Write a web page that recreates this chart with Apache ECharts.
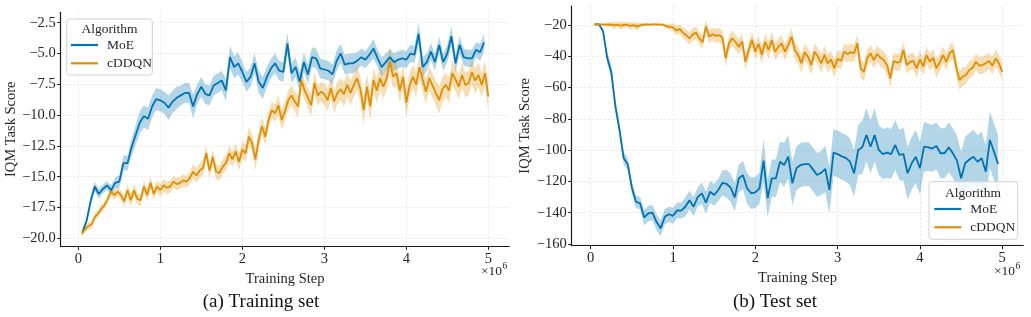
<!DOCTYPE html>
<html>
<head>
<meta charset="utf-8">
<script src="https://cdn.jsdelivr.net/npm/echarts@6.0.0/dist/echarts.min.js"></script>
<style>
  html, body { margin: 0; padding: 0; background: #fff; }
  #chart { width: 1031px; height: 317px; }
</style>
</head>
<body>
<div id="chart"></div>
<script>
// evaluation steps are in millions of training steps (axis shows x10^6)
const MOE_START = 0.05, MOE_EVERY = 0.05;     // 99 evaluations
const DDQN_START = 0.04, DDQN_EVERY = 0.04;   // 125 evaluations

const xTicks = [0, 1, 2, 3, 4, 5];
const trainTicks = [-20, -17.5, -15, -12.5, -10, -7.5, -5, -2.5];
const testTicks = [-160, -140, -120, -100, -80, -60, -40, -20];

// (a) training set, IQM mean
const moeTrain = [
  -19.5, -18.6, -17.0, -15.8, -16.4, -16.0, -15.7, -16.1, -15.5, -15.4,
  -13.9, -13.9, -12.6, -11.6, -10.6, -10.1, -10.3, -9.3, -8.7, -8.8,
  -9.0, -9.4, -8.9, -8.6, -8.4, -8.2, -8.2, -9.3, -8.3, -7.7,
  -8.3, -8.4, -7.6, -7.4, -7.2, -8.0, -5.3, -6.1, -5.8, -6.5,
  -7.3, -6.9, -5.8, -7.3, -7.8, -6.9, -6.2, -5.8, -6.4, -6.5,
  -4.2, -6.6, -6.1, -7.3, -5.7, -6.7, -5.3, -5.4, -6.2, -6.3,
  -6.4, -6.7, -5.6, -5.0, -5.9, -5.8, -5.8, -5.6, -5.3, -5.5,
  -5.1, -4.6, -5.4, -6.1, -5.7, -5.3, -5.7, -5.5, -5.4, -5.5,
  -5.0, -5.1, -3.4, -6.1, -5.7, -4.85, -5.7, -4.3, -5.7, -5.0,
  -3.6, -5.8, -4.3, -5.3, -5.4, -5.4, -4.7, -4.9, -4.1
];
// half width of the shaded interval
const moeTrainCi = [
  0.2, 0.3, 0.4, 0.4, 0.4, 0.35, 0.35, 0.4, 0.45, 0.5,
  0.6, 0.6, 0.7, 0.8, 0.9, 0.9, 0.9, 0.9, 0.9, 0.9,
  0.9, 1.0, 0.9, 0.9, 0.8, 0.8, 0.8, 1.0, 0.8, 0.8,
  0.8, 0.8, 0.8, 0.8, 0.8, 0.9, 0.9, 0.9, 0.9, 0.8,
  0.8, 0.8, 0.8, 0.9, 0.9, 0.8, 0.8, 0.8, 0.8, 0.8,
  0.9, 0.8, 0.8, 0.8, 0.8, 0.8, 0.8, 0.8, 0.8, 0.8,
  0.8, 0.8, 0.8, 0.8, 0.8, 0.8, 0.8, 0.7, 0.7, 0.7,
  0.7, 0.8, 0.7, 0.8, 0.7, 0.7, 0.7, 0.7, 0.7, 0.7,
  0.7, 0.7, 0.9, 0.8, 0.7, 0.7, 0.7, 0.7, 0.7, 0.7,
  0.8, 0.7, 0.7, 0.7, 0.7, 0.7, 0.6, 0.7, 0.7
];
const ddqnTrain = [
  -19.6, -19.3, -19.0, -18.9, -18.3, -18.0, -17.6, -17.3, -16.8, -16.2,
  -16.5, -16.2, -16.5, -17.0, -16.1, -16.9, -16.1, -16.8, -16.9, -15.8,
  -16.5, -15.5, -16.4, -15.8, -16.1, -15.7, -15.9, -15.8, -15.4, -15.6,
  -15.5, -15.3, -15.4, -15.1, -14.6, -14.9, -14.5, -14.3, -13.1, -14.5,
  -13.4, -14.6, -14.7, -14.2, -13.9, -13.1, -13.6, -12.95, -13.8, -12.8,
  -13.1, -11.75, -12.3, -13.6, -12.0, -10.9, -11.75, -10.4, -9.6, -9.85,
  -9.2, -10.4, -9.7, -8.8, -8.4, -8.9, -9.3, -7.15, -8.0, -8.6,
  -9.2, -7.4, -8.4, -8.1, -8.3, -8.8, -7.8, -8.9, -8.2, -7.9,
  -8.3, -7.55, -8.2, -7.55, -7.0, -7.9, -9.6, -7.7, -9.3, -7.15,
  -8.0, -7.0, -7.7, -7.0, -5.65, -6.9, -6.6, -8.0, -6.9, -9.0,
  -7.6, -6.9, -7.5, -6.1, -7.15, -8.1, -7.0, -7.6, -8.2, -8.8,
  -7.9, -7.55, -8.0, -6.6, -7.1, -7.7, -6.75, -7.55, -7.4, -6.5,
  -7.2, -6.75, -7.55, -6.6, -8.5
];
const ddqnTrainCi = [
  0.3, 0.3, 0.3, 0.3, 0.3, 0.3, 0.3, 0.3, 0.3, 0.3,
  0.4, 0.4, 0.4, 0.5, 0.5, 0.5, 0.5, 0.5, 0.5, 0.5,
  0.5, 0.5, 0.5, 0.5, 0.5, 0.5, 0.5, 0.5, 0.5, 0.5,
  0.5, 0.5, 0.5, 0.5, 0.6, 0.6, 0.6, 0.6, 0.7, 0.6,
  0.6, 0.6, 0.6, 0.6, 0.6, 0.7, 0.6, 0.7, 0.7, 0.7,
  0.7, 0.8, 0.7, 0.9, 0.7, 0.8, 0.7, 0.7, 0.7, 0.7,
  0.8, 0.8, 0.8, 0.8, 0.8, 0.8, 0.9, 0.9, 0.8, 0.8,
  0.9, 0.9, 0.8, 0.8, 0.9, 0.9, 0.9, 0.9, 0.9, 0.9,
  1.0, 1.0, 1.0, 1.0, 1.0, 1.0, 1.2, 1.0, 1.2, 1.0,
  1.0, 1.0, 1.0, 1.0, 1.1, 1.0, 1.0, 1.0, 1.0, 1.2,
  1.0, 1.0, 1.0, 1.0, 1.0, 1.0, 1.0, 1.0, 1.0, 1.1,
  1.0, 1.0, 1.0, 1.0, 1.0, 1.0, 1.0, 1.0, 1.0, 1.0,
  1.0, 1.0, 1.0, 1.0, 1.2
];

// (b) test set, IQM mean
const moeTest = [
  -19.6, -19.6, -24.0, -41.0, -50.0, -72.0, -87.0, -105.0, -109.0, -124.0,
  -133.0, -134.0, -143.0, -140.5, -140.0, -146.0, -150.0, -142.6, -141.0, -142.0,
  -138.5, -138.7, -136.2, -132.0, -136.2, -130.0, -127.6, -133.6, -126.6, -128.7,
  -125.5, -121.0, -121.5, -124.0, -130.2, -118.0, -116.0, -124.4, -127.6, -127.0,
  -124.4, -106.7, -130.8, -118.0, -118.0, -107.4, -109.5, -104.2, -121.2, -111.6,
  -109.5, -109.0, -108.9, -112.3, -115.9, -114.5, -112.0, -125.5, -101.6, -102.5,
  -104.0, -105.0, -107.4, -114.8, -99.9, -98.2, -90.3, -97.8, -90.3, -99.9,
  -102.5, -101.6, -102.5, -96.7, -103.1, -102.5, -114.8, -108.4, -104.2, -111.6,
  -97.8, -98.2, -99.0, -97.4, -102.0, -102.0, -98.2, -102.0, -106.7, -118.0,
  -108.4, -106.0, -104.2, -107.4, -105.2, -113.8, -93.5, -101.0, -108.9
];
const moeTestCi = [
  0.5, 0.5, 1.5, 4, 4, 4, 4, 4, 4, 4,
  4, 4, 5, 5, 5, 5, 5, 5, 5, 5,
  5, 5, 6, 6, 6, 6, 7, 7, 7, 7,
  7, 8, 9, 9, 9, 9, 9, 10, 10, 10,
  10, 14, 12, 12, 12, 13, 14, 14, 14, 14,
  14, 14, 14, 14, 14, 14, 15, 15, 15, 15,
  15, 15, 15, 15, 16, 17, 17, 17, 17, 16,
  16, 16, 16, 16, 16, 17, 17, 17, 17, 17,
  16, 15, 15, 15, 16, 16, 16, 16, 16, 17,
  17, 17, 17, 17, 17, 17, 18, 18, 18
];
const ddqnTest = [
  -19.6, -19.6, -19.6, -19.7, -19.8, -19.6, -20.3, -19.8, -20.4, -20.0,
  -19.8, -20.5, -20.0, -21.0, -20.2, -19.7, -19.6, -19.7, -19.6, -19.6,
  -19.7, -19.8, -20.8, -21.2, -21.5, -23.6, -22.5, -24.9, -26.5, -28.5,
  -26.0, -24.9, -28.5, -31.0, -21.0, -27.5, -25.8, -27.0, -26.4, -28.0,
  -41.3, -31.7, -28.5, -31.0, -33.9, -30.5, -43.5, -36.0, -29.4, -37.1,
  -32.0, -39.2, -30.7, -36.0, -29.6, -37.1, -34.0, -31.7, -37.1, -32.8,
  -27.5, -36.0, -39.2, -44.5, -37.5, -40.3, -45.6, -37.1, -40.0, -44.5,
  -39.0, -44.5, -42.0, -47.7, -41.5, -43.0, -37.1, -38.5, -37.5, -38.0,
  -31.7, -47.7, -49.9, -41.0, -38.1, -42.5, -38.5, -41.0, -42.4, -45.5,
  -54.1, -43.0, -44.0, -43.5, -36.0, -45.6, -43.5, -43.0, -47.7, -42.0,
  -46.5, -39.2, -43.5, -41.0, -47.7, -44.0, -39.2, -43.5, -38.1, -36.0,
  -46.7, -55.2, -53.0, -52.0, -48.8, -47.5, -43.5, -46.0, -45.6, -44.5,
  -43.0, -46.0, -41.3, -44.5, -49.9
];
const ddqnTestCi = [
  0.5, 0.5, 0.6, 0.8, 1.5, 1.2, 2.5, 1.5, 2.5, 2.0,
  1.5, 2.5, 2.0, 2.5, 1.5, 1.0, 0.8, 0.8, 0.8, 0.8,
  0.8, 1.0, 1.5, 2.0, 2.5, 3.0, 3.0, 3.5, 3.5, 4.0,
  4.0, 4.0, 4.0, 4.5, 4.0, 4.5, 4.0, 4.5, 4.5, 4.5,
  5.5, 5.0, 5.0, 5.0, 5.0, 5.0, 5.5, 5.0, 5.0, 5.0,
  5.5, 5.5, 5.5, 5.5, 5.5, 5.5, 5.5, 5.5, 5.5, 5.5,
  5.5, 5.5, 5.5, 6.0, 5.5, 5.5, 6.0, 5.5, 5.5, 6.0,
  5.5, 6.0, 5.5, 6.0, 5.5, 5.5, 5.5, 5.5, 5.5, 5.5,
  5.5, 6.0, 6.0, 5.5, 5.5, 5.5, 5.5, 5.5, 5.5, 6.0,
  6.0, 5.5, 5.5, 5.5, 5.5, 5.5, 5.5, 5.5, 6.0, 5.5,
  5.5, 5.5, 5.5, 5.5, 6.0, 5.5, 5.5, 5.5, 5.5, 5.5,
  6.0, 6.0, 6.0, 5.5, 5.5, 5.5, 5.5, 5.5, 5.5, 5.5,
  5.5, 5.5, 5.5, 5.5, 6.0
];

const BLUE = "#0173b2";
const ORANGE = "#de8f05";
const FONT = '"Liberation Serif", "Times New Roman", serif';
const TEXT = "#262626";

const pts = (start, every, ys) => ys.map((y, i) => [+(start + every * i).toFixed(3), y]);
const fmtTrain = (v) => (v < 0 ? "\u2212" : "") + Math.abs(v).toFixed(1);
const fmtTest = (v) => (v < 0 ? "\u2212" : "") + Math.abs(v).toFixed(0);

// shaded interval drawn as one polygon through the axis scales
function band(g, start, every, mean, ci, fill) {
  const upper = pts(start, every, mean.map((m, i) => m + ci[i]));
  const lower = pts(start, every, mean.map((m, i) => m - ci[i])).reverse();
  return {
    type: "custom", xAxisIndex: g, yAxisIndex: g, silent: true, z: 1,
    data: [[start, mean[0]]],
    renderItem: (params, api) => ({
      type: "polygon",
      shape: { points: upper.concat(lower).map((p) => api.coord(p)) },
      style: { fill },
    }),
  };
}

function line(name, g, start, every, mean, color) {
  return {
    name, type: "line", xAxisIndex: g, yAxisIndex: g, data: pts(start, every, mean),
    showSymbol: false, z: 3, lineStyle: { color, width: 1.8 }, itemStyle: { color },
  };
}

function xAxis(g, min, max) {
  return {
    gridIndex: g, type: "value", min, max,
    axisLine: { show: true, onZero: false, lineStyle: { color: "#1a1a1a", width: 1.2 } },
    axisTick: { show: true, length: 3.5, customValues: xTicks, lineStyle: { color: "#1a1a1a" } },
    axisLabel: { customValues: xTicks, margin: 5, fontFamily: FONT, fontSize: 14.5, color: TEXT },
    splitLine: { show: true, lineStyle: { color: "#e3e3e3", width: 0.8, type: [2, 2] } },
    name: "Training Step", nameLocation: "middle", nameGap: 17,
    nameTextStyle: { fontFamily: FONT, fontSize: 14.5, color: TEXT },
  };
}

function yAxis(g, min, max, ticks, fmt, gap) {
  return {
    gridIndex: g, type: "value", min, max,
    axisLine: { show: true, onZero: false, lineStyle: { color: "#1a1a1a", width: 1.2 } },
    axisTick: { show: true, length: 3.5, customValues: ticks, lineStyle: { color: "#1a1a1a" } },
    axisLabel: { customValues: ticks, margin: 5, formatter: fmt, fontFamily: FONT, fontSize: 14.5, color: TEXT },
    splitLine: { show: true, lineStyle: { color: "#e3e3e3", width: 0.8, type: [2, 2] } },
    name: "IQM Task Score", nameLocation: "middle", nameGap: gap,
    nameTextStyle: { fontFamily: FONT, fontSize: 14.5, color: TEXT },
  };
}

function legend(left, top) {
  return {
    orient: "vertical", left, top, padding: 0, itemGap: 3.3, z: 60,
    icon: "rect", itemWidth: 27, itemHeight: 2.2,
    data: ["MoE", "cDDQN"],
    textStyle: { fontFamily: FONT, fontSize: 13.5, color: TEXT, lineHeight: 15, padding: [0, 0, 0, 4] },
    selectedMode: false,
  };
}

function legendBox(x, y, w, h, tx, ty) {
  return [
    { type: "rect", z: 50, shape: { x, y, width: w, height: h, r: 3 },
      style: { fill: "rgba(255,255,255,0.8)", stroke: "#d2d2d2", lineWidth: 1 } },
    { type: "text", z: 51, x: tx, y: ty,
      style: { text: "Algorithm", font: '13.5px ' + FONT, fill: TEXT, align: "center", verticalAlign: "middle" } },
  ];
}

function sci(x, y) {
  return [
    { type: "text", x, y, style: { text: "\u00d710", font: '13.5px ' + FONT, fill: TEXT, align: "right", verticalAlign: "middle" } },
    { type: "text", x: x + 0.5, y: y - 5, style: { text: "6", font: '9.5px ' + FONT, fill: TEXT, align: "left", verticalAlign: "middle" } },
  ];
}

const chart = echarts.init(document.getElementById("chart"), null, { renderer: "canvas" });

chart.setOption({
  animation: false,
  grid: [
    { left: 60.7, top: 12.3, width: 448.6, height: 234 },
    { left: 571.7, top: 6, width: 451.6, height: 239.7 },
  ],
  xAxis: [xAxis(0, -0.215, 5.256), xAxis(1, -0.231, 5.256)],
  yAxis: [
    yAxis(0, -20.65, -1.656, trainTicks, fmtTrain, 42),
    yAxis(1, -161.1, -7.85, testTicks, fmtTest, 38),
  ],
  legend: [legend(71, 37.5), legend(934.3, 201.5)],
  series: [
    band(0, MOE_START, MOE_EVERY, moeTrain, moeTrainCi, "rgba(1,115,178,0.3)"),
    band(0, DDQN_START, DDQN_EVERY, ddqnTrain, ddqnTrainCi, "rgba(222,143,5,0.3)"),
    band(1, MOE_START, MOE_EVERY, moeTest, moeTestCi, "rgba(1,115,178,0.3)"),
    band(1, DDQN_START, DDQN_EVERY, ddqnTest, ddqnTestCi, "rgba(222,143,5,0.3)"),
    line("MoE", 0, MOE_START, MOE_EVERY, moeTrain, BLUE),
    line("cDDQN", 0, DDQN_START, DDQN_EVERY, ddqnTrain, ORANGE),
    line("MoE", 1, MOE_START, MOE_EVERY, moeTest, BLUE),
    line("cDDQN", 1, DDQN_START, DDQN_EVERY, ddqnTest, ORANGE),
  ],
  graphic: {
    elements: [
      ...legendBox(66.7, 19, 85.6, 56, 109.5, 29.5),
      ...legendBox(929, 181.7, 88.7, 57.6, 973, 193),
      ...sci(502, 271),
      ...sci(1015, 271),
      { type: "text", x: 261, y: 302, style: { text: "(a) Training set", font: '19px ' + FONT, fill: "#111", align: "center", verticalAlign: "middle" } },
      { type: "text", x: 775, y: 302, style: { text: "(b) Test set", font: '19px ' + FONT, fill: "#111", align: "center", verticalAlign: "middle" } },
    ],
  },
});
</script>
</body>
</html>
